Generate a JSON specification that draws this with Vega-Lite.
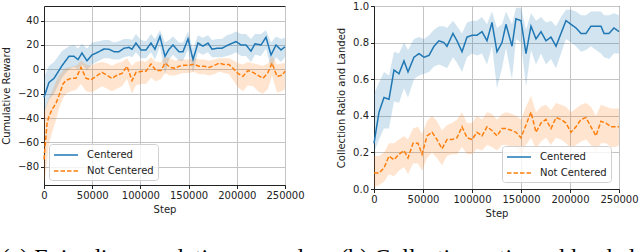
{
  "$schema": "https://vega.github.io/schema/vega-lite/v6.json",
  "autosize": {"type": "pad"},
  "padding": {"left": 0, "top": 0, "right": 0, "bottom": 0},
  "background": "white",
  "bounds": "flush",
  "spacing": 89,
  "config": {
    "view": {"stroke": "#222", "strokeWidth": 1},
    "axis": {
      "labelFont": "DejaVu Sans", "labelFontSize": 10, "labelColor": "#222",
      "titleFont": "DejaVu Sans", "titleFontSize": 10, "titleFontWeight": "normal", "titleColor": "#222",
      "tickSize": 3.5, "tickColor": "#222", "domainColor": "#222", "labelPadding": 2, "labelOverlap": false, "labelFlush": false,
      "gridColor": "#c4c4c4", "gridWidth": 1
    },
    "legend": {
      "labelFont": "DejaVu Sans", "labelFontSize": 10, "labelColor": "#222"
    },
    "title": {"font": "Liberation Serif", "fontSize": 24, "fontWeight": "normal", "color": "#000"}
  },
  "resolve": {
    "scale": {"color": "independent", "strokeDash": "independent"}
  },
  "datasets": {
    "reward": [
      {"step": 0, "s": "Centered", "m": -23, "lo": -36, "hi": -7},
      {"step": 5200, "s": "Centered", "m": -10.7, "lo": -25, "hi": 3},
      {"step": 10400, "s": "Centered", "m": -7.4, "lo": -20, "hi": 6},
      {"step": 18700, "s": "Centered", "m": 3, "lo": -7, "hi": 15},
      {"step": 25900, "s": "Centered", "m": 10.7, "lo": 0, "hi": 19},
      {"step": 31100, "s": "Centered", "m": 10.7, "lo": 2, "hi": 20},
      {"step": 35300, "s": "Centered", "m": 8, "lo": 0, "hi": 17},
      {"step": 39400, "s": "Centered", "m": 13.4, "lo": 4, "hi": 21},
      {"step": 44600, "s": "Centered", "m": 7, "lo": -1, "hi": 17},
      {"step": 49800, "s": "Centered", "m": 11.8, "lo": 4, "hi": 22},
      {"step": 57100, "s": "Centered", "m": 14.5, "lo": 7, "hi": 23},
      {"step": 62200, "s": "Centered", "m": 16.7, "lo": 9, "hi": 24},
      {"step": 67400, "s": "Centered", "m": 16.5, "lo": 9, "hi": 24},
      {"step": 72600, "s": "Centered", "m": 14.5, "lo": 8, "hi": 22},
      {"step": 77800, "s": "Centered", "m": 14.5, "lo": 8, "hi": 23},
      {"step": 83000, "s": "Centered", "m": 17.3, "lo": 10, "hi": 25},
      {"step": 88200, "s": "Centered", "m": 18, "lo": 11, "hi": 25},
      {"step": 91300, "s": "Centered", "m": 16.5, "lo": 10, "hi": 24},
      {"step": 95400, "s": "Centered", "m": 21.6, "lo": 14, "hi": 29},
      {"step": 100600, "s": "Centered", "m": 15.9, "lo": 9, "hi": 24},
      {"step": 105800, "s": "Centered", "m": 15.9, "lo": 9, "hi": 23},
      {"step": 111000, "s": "Centered", "m": 21.6, "lo": 14, "hi": 29},
      {"step": 115100, "s": "Centered", "m": 16.5, "lo": 8, "hi": 25},
      {"step": 120300, "s": "Centered", "m": 27, "lo": 19, "hi": 32},
      {"step": 125500, "s": "Centered", "m": 10.7, "lo": -4, "hi": 22},
      {"step": 129700, "s": "Centered", "m": 16.5, "lo": 8, "hi": 24},
      {"step": 133800, "s": "Centered", "m": 20, "lo": 12, "hi": 27},
      {"step": 140000, "s": "Centered", "m": 14.5, "lo": 7, "hi": 22},
      {"step": 144200, "s": "Centered", "m": 14.5, "lo": 7, "hi": 22},
      {"step": 149400, "s": "Centered", "m": 25, "lo": 16, "hi": 31},
      {"step": 154600, "s": "Centered", "m": 8, "lo": -3, "hi": 17},
      {"step": 159700, "s": "Centered", "m": 21.6, "lo": 14, "hi": 28},
      {"step": 164900, "s": "Centered", "m": 19, "lo": 12, "hi": 26},
      {"step": 170100, "s": "Centered", "m": 21.6, "lo": 14, "hi": 28},
      {"step": 174300, "s": "Centered", "m": 16.5, "lo": 10, "hi": 24},
      {"step": 179500, "s": "Centered", "m": 17.3, "lo": 10, "hi": 25},
      {"step": 184600, "s": "Centered", "m": 17.3, "lo": 10, "hi": 25},
      {"step": 189800, "s": "Centered", "m": 19.5, "lo": 11, "hi": 28},
      {"step": 194000, "s": "Centered", "m": 21, "lo": 12, "hi": 29},
      {"step": 199200, "s": "Centered", "m": 22.8, "lo": 14, "hi": 31},
      {"step": 204400, "s": "Centered", "m": 20, "lo": 11, "hi": 29},
      {"step": 209500, "s": "Centered", "m": 20, "lo": 11, "hi": 29},
      {"step": 214700, "s": "Centered", "m": 15, "lo": 6, "hi": 25},
      {"step": 218900, "s": "Centered", "m": 21, "lo": 12, "hi": 29},
      {"step": 225100, "s": "Centered", "m": 20, "lo": 11, "hi": 29},
      {"step": 230300, "s": "Centered", "m": 26.3, "lo": 17, "hi": 32},
      {"step": 235500, "s": "Centered", "m": 11.8, "lo": 1, "hi": 22},
      {"step": 240700, "s": "Centered", "m": 20, "lo": 10, "hi": 27},
      {"step": 245800, "s": "Centered", "m": 15.9, "lo": 6, "hi": 25},
      {"step": 250000, "s": "Centered", "m": 18.5, "lo": 10, "hi": 26},
      {"step": 0, "s": "Not Centered", "m": -74, "lo": -95, "hi": -35},
      {"step": 3100, "s": "Not Centered", "m": -45, "lo": -75, "hi": -28},
      {"step": 5000, "s": "Not Centered", "m": -39, "lo": -62, "hi": -24},
      {"step": 8300, "s": "Not Centered", "m": -33, "lo": -52, "hi": -18},
      {"step": 12400, "s": "Not Centered", "m": -28, "lo": -42, "hi": -10},
      {"step": 15600, "s": "Not Centered", "m": -21.5, "lo": -32, "hi": -5},
      {"step": 19700, "s": "Not Centered", "m": -12, "lo": -24, "hi": -1},
      {"step": 22800, "s": "Not Centered", "m": -9, "lo": -20, "hi": 1},
      {"step": 28000, "s": "Not Centered", "m": -7.4, "lo": -18, "hi": 2},
      {"step": 33200, "s": "Not Centered", "m": -7.4, "lo": -17, "hi": 3},
      {"step": 38400, "s": "Not Centered", "m": 1.6, "lo": -12, "hi": 7},
      {"step": 43600, "s": "Not Centered", "m": -7.4, "lo": -18, "hi": 4},
      {"step": 48800, "s": "Not Centered", "m": -8.5, "lo": -19, "hi": 3},
      {"step": 53900, "s": "Not Centered", "m": -5.8, "lo": -17, "hi": 5},
      {"step": 60200, "s": "Not Centered", "m": -2.5, "lo": -14, "hi": 6},
      {"step": 65400, "s": "Not Centered", "m": -5, "lo": -16, "hi": 5},
      {"step": 70500, "s": "Not Centered", "m": -7.4, "lo": -18, "hi": 3},
      {"step": 75700, "s": "Not Centered", "m": -4.9, "lo": -16, "hi": 5},
      {"step": 80900, "s": "Not Centered", "m": -3.3, "lo": -14, "hi": 6},
      {"step": 86100, "s": "Not Centered", "m": 2.5, "lo": -8, "hi": 9},
      {"step": 91300, "s": "Not Centered", "m": -9.3, "lo": -20, "hi": 3},
      {"step": 95400, "s": "Not Centered", "m": -2.5, "lo": -13, "hi": 6},
      {"step": 101700, "s": "Not Centered", "m": -1.6, "lo": -12, "hi": 7},
      {"step": 105800, "s": "Not Centered", "m": -1.6, "lo": -12, "hi": 6},
      {"step": 111000, "s": "Not Centered", "m": 4.4, "lo": -7, "hi": 10},
      {"step": 116200, "s": "Not Centered", "m": -1, "lo": -10, "hi": 6},
      {"step": 121400, "s": "Not Centered", "m": -1, "lo": -8, "hi": 6},
      {"step": 125500, "s": "Not Centered", "m": 5.2, "lo": -3, "hi": 10},
      {"step": 130700, "s": "Not Centered", "m": 1.6, "lo": -5, "hi": 9},
      {"step": 135900, "s": "Not Centered", "m": 0.8, "lo": -5, "hi": 7},
      {"step": 140000, "s": "Not Centered", "m": 2.5, "lo": -4, "hi": 8},
      {"step": 145200, "s": "Not Centered", "m": 3.3, "lo": -3, "hi": 8},
      {"step": 150400, "s": "Not Centered", "m": 3.3, "lo": -3, "hi": 8},
      {"step": 155600, "s": "Not Centered", "m": 4.1, "lo": -2, "hi": 9},
      {"step": 160800, "s": "Not Centered", "m": 2.5, "lo": -4, "hi": 8},
      {"step": 166000, "s": "Not Centered", "m": 2.5, "lo": -4, "hi": 8},
      {"step": 171200, "s": "Not Centered", "m": 1.6, "lo": -5, "hi": 7},
      {"step": 176300, "s": "Not Centered", "m": 3, "lo": -4, "hi": 8},
      {"step": 181500, "s": "Not Centered", "m": 5, "lo": -2, "hi": 9},
      {"step": 186700, "s": "Not Centered", "m": 4, "lo": -3, "hi": 9},
      {"step": 191900, "s": "Not Centered", "m": 4, "lo": -4, "hi": 9},
      {"step": 197100, "s": "Not Centered", "m": 0, "lo": -10, "hi": 7},
      {"step": 201200, "s": "Not Centered", "m": -3.3, "lo": -15, "hi": 5},
      {"step": 206400, "s": "Not Centered", "m": -5.8, "lo": -18, "hi": 4},
      {"step": 211600, "s": "Not Centered", "m": -1, "lo": -13, "hi": 6},
      {"step": 216800, "s": "Not Centered", "m": -2.5, "lo": -14, "hi": 5},
      {"step": 222000, "s": "Not Centered", "m": -4.9, "lo": -18, "hi": 4},
      {"step": 227200, "s": "Not Centered", "m": -7.4, "lo": -20, "hi": 3},
      {"step": 232400, "s": "Not Centered", "m": -2.5, "lo": -16, "hi": 5},
      {"step": 236500, "s": "Not Centered", "m": 5.2, "lo": -5, "hi": 11},
      {"step": 241700, "s": "Not Centered", "m": -5.8, "lo": -19, "hi": 4},
      {"step": 246900, "s": "Not Centered", "m": -4.9, "lo": -18, "hi": 5},
      {"step": 250000, "s": "Not Centered", "m": -1.6, "lo": -16, "hi": 5}
    ],
    "ratio": [
      {"step": 0, "s": "Centered", "m": 0.25, "lo": 0.2, "hi": 0.52},
      {"step": 5100, "s": "Centered", "m": 0.42, "lo": 0.27, "hi": 0.58},
      {"step": 10200, "s": "Centered", "m": 0.5, "lo": 0.33, "hi": 0.64},
      {"step": 15300, "s": "Centered", "m": 0.49, "lo": 0.33, "hi": 0.62},
      {"step": 20400, "s": "Centered", "m": 0.65, "lo": 0.48, "hi": 0.75},
      {"step": 25500, "s": "Centered", "m": 0.63, "lo": 0.47, "hi": 0.74},
      {"step": 30600, "s": "Centered", "m": 0.7, "lo": 0.55, "hi": 0.8},
      {"step": 34700, "s": "Centered", "m": 0.64, "lo": 0.5, "hi": 0.76},
      {"step": 40800, "s": "Centered", "m": 0.72, "lo": 0.6, "hi": 0.82},
      {"step": 45900, "s": "Centered", "m": 0.74, "lo": 0.62, "hi": 0.83},
      {"step": 51000, "s": "Centered", "m": 0.72, "lo": 0.63, "hi": 0.82},
      {"step": 56100, "s": "Centered", "m": 0.73, "lo": 0.64, "hi": 0.84},
      {"step": 61200, "s": "Centered", "m": 0.78, "lo": 0.67, "hi": 0.87},
      {"step": 66300, "s": "Centered", "m": 0.81, "lo": 0.68, "hi": 0.89},
      {"step": 71400, "s": "Centered", "m": 0.8, "lo": 0.67, "hi": 0.89},
      {"step": 74500, "s": "Centered", "m": 0.78, "lo": 0.66, "hi": 0.88},
      {"step": 80600, "s": "Centered", "m": 0.85, "lo": 0.72, "hi": 0.92},
      {"step": 84700, "s": "Centered", "m": 0.81, "lo": 0.69, "hi": 0.89},
      {"step": 89800, "s": "Centered", "m": 0.75, "lo": 0.64, "hi": 0.85},
      {"step": 94900, "s": "Centered", "m": 0.83, "lo": 0.72, "hi": 0.91},
      {"step": 100000, "s": "Centered", "m": 0.84, "lo": 0.74, "hi": 0.92},
      {"step": 105100, "s": "Centered", "m": 0.84, "lo": 0.73, "hi": 0.92},
      {"step": 110200, "s": "Centered", "m": 0.86, "lo": 0.74, "hi": 0.94},
      {"step": 115300, "s": "Centered", "m": 0.81, "lo": 0.68, "hi": 0.9},
      {"step": 120400, "s": "Centered", "m": 0.91, "lo": 0.78, "hi": 0.97},
      {"step": 125500, "s": "Centered", "m": 0.75, "lo": 0.55, "hi": 0.88},
      {"step": 130600, "s": "Centered", "m": 0.8, "lo": 0.66, "hi": 0.9},
      {"step": 134700, "s": "Centered", "m": 0.9, "lo": 0.77, "hi": 0.97},
      {"step": 140800, "s": "Centered", "m": 0.78, "lo": 0.6, "hi": 0.9},
      {"step": 144900, "s": "Centered", "m": 0.93, "lo": 0.82, "hi": 0.99},
      {"step": 150000, "s": "Centered", "m": 0.92, "lo": 0.8, "hi": 0.99},
      {"step": 155100, "s": "Centered", "m": 0.74, "lo": 0.56, "hi": 0.87},
      {"step": 160200, "s": "Centered", "m": 0.89, "lo": 0.76, "hi": 0.96},
      {"step": 165300, "s": "Centered", "m": 0.82, "lo": 0.68, "hi": 0.92},
      {"step": 170400, "s": "Centered", "m": 0.86, "lo": 0.74, "hi": 0.94},
      {"step": 175500, "s": "Centered", "m": 0.81, "lo": 0.68, "hi": 0.91},
      {"step": 180600, "s": "Centered", "m": 0.83, "lo": 0.71, "hi": 0.92},
      {"step": 185700, "s": "Centered", "m": 0.78, "lo": 0.66, "hi": 0.89},
      {"step": 190800, "s": "Centered", "m": 0.85, "lo": 0.74, "hi": 0.94},
      {"step": 195900, "s": "Centered", "m": 0.92, "lo": 0.82, "hi": 0.98},
      {"step": 201000, "s": "Centered", "m": 0.9, "lo": 0.8, "hi": 0.98},
      {"step": 206100, "s": "Centered", "m": 0.88, "lo": 0.78, "hi": 0.97},
      {"step": 211200, "s": "Centered", "m": 0.85, "lo": 0.75, "hi": 0.95},
      {"step": 216300, "s": "Centered", "m": 0.85, "lo": 0.76, "hi": 0.95},
      {"step": 221400, "s": "Centered", "m": 0.89, "lo": 0.78, "hi": 0.97},
      {"step": 226500, "s": "Centered", "m": 0.89, "lo": 0.76, "hi": 0.97},
      {"step": 231600, "s": "Centered", "m": 0.89, "lo": 0.74, "hi": 0.97},
      {"step": 234700, "s": "Centered", "m": 0.85, "lo": 0.72, "hi": 0.95},
      {"step": 239800, "s": "Centered", "m": 0.85, "lo": 0.71, "hi": 0.95},
      {"step": 244900, "s": "Centered", "m": 0.88, "lo": 0.74, "hi": 0.96},
      {"step": 250000, "s": "Centered", "m": 0.86, "lo": 0.74, "hi": 0.95},
      {"step": 0, "s": "Not Centered", "m": 0.087, "lo": 0.01, "hi": 0.18},
      {"step": 5100, "s": "Not Centered", "m": 0.087, "lo": 0.02, "hi": 0.18},
      {"step": 10200, "s": "Not Centered", "m": 0.115, "lo": 0.04, "hi": 0.2},
      {"step": 15300, "s": "Not Centered", "m": 0.18, "lo": 0.08, "hi": 0.25},
      {"step": 20400, "s": "Not Centered", "m": 0.16, "lo": 0.07, "hi": 0.25},
      {"step": 25500, "s": "Not Centered", "m": 0.19, "lo": 0.1, "hi": 0.27},
      {"step": 30600, "s": "Not Centered", "m": 0.21, "lo": 0.12, "hi": 0.29},
      {"step": 34700, "s": "Not Centered", "m": 0.17, "lo": 0.08, "hi": 0.27},
      {"step": 39800, "s": "Not Centered", "m": 0.25, "lo": 0.14, "hi": 0.33},
      {"step": 44900, "s": "Not Centered", "m": 0.25, "lo": 0.14, "hi": 0.34},
      {"step": 49000, "s": "Not Centered", "m": 0.19, "lo": 0.1, "hi": 0.3},
      {"step": 54100, "s": "Not Centered", "m": 0.29, "lo": 0.17, "hi": 0.37},
      {"step": 59200, "s": "Not Centered", "m": 0.31, "lo": 0.2, "hi": 0.4},
      {"step": 64300, "s": "Not Centered", "m": 0.27, "lo": 0.17, "hi": 0.37},
      {"step": 69400, "s": "Not Centered", "m": 0.22, "lo": 0.13, "hi": 0.32},
      {"step": 74500, "s": "Not Centered", "m": 0.27, "lo": 0.18, "hi": 0.35},
      {"step": 79600, "s": "Not Centered", "m": 0.27, "lo": 0.19, "hi": 0.36},
      {"step": 84700, "s": "Not Centered", "m": 0.28, "lo": 0.19, "hi": 0.38},
      {"step": 89800, "s": "Not Centered", "m": 0.34, "lo": 0.23, "hi": 0.42},
      {"step": 94900, "s": "Not Centered", "m": 0.28, "lo": 0.19, "hi": 0.36},
      {"step": 100000, "s": "Not Centered", "m": 0.27, "lo": 0.19, "hi": 0.36},
      {"step": 105100, "s": "Not Centered", "m": 0.31, "lo": 0.22, "hi": 0.4},
      {"step": 110200, "s": "Not Centered", "m": 0.29, "lo": 0.21, "hi": 0.38},
      {"step": 115300, "s": "Not Centered", "m": 0.34, "lo": 0.24, "hi": 0.42},
      {"step": 120400, "s": "Not Centered", "m": 0.32, "lo": 0.23, "hi": 0.41},
      {"step": 125500, "s": "Not Centered", "m": 0.29, "lo": 0.21, "hi": 0.38},
      {"step": 130600, "s": "Not Centered", "m": 0.33, "lo": 0.24, "hi": 0.41},
      {"step": 134700, "s": "Not Centered", "m": 0.33, "lo": 0.24, "hi": 0.42},
      {"step": 140800, "s": "Not Centered", "m": 0.32, "lo": 0.23, "hi": 0.41},
      {"step": 144900, "s": "Not Centered", "m": 0.31, "lo": 0.22, "hi": 0.4},
      {"step": 150000, "s": "Not Centered", "m": 0.28, "lo": 0.19, "hi": 0.38},
      {"step": 155100, "s": "Not Centered", "m": 0.35, "lo": 0.24, "hi": 0.45},
      {"step": 160200, "s": "Not Centered", "m": 0.42, "lo": 0.28, "hi": 0.51},
      {"step": 165300, "s": "Not Centered", "m": 0.31, "lo": 0.22, "hi": 0.42},
      {"step": 170400, "s": "Not Centered", "m": 0.36, "lo": 0.26, "hi": 0.45},
      {"step": 175500, "s": "Not Centered", "m": 0.38, "lo": 0.28, "hi": 0.46},
      {"step": 180600, "s": "Not Centered", "m": 0.33, "lo": 0.24, "hi": 0.43},
      {"step": 185700, "s": "Not Centered", "m": 0.39, "lo": 0.28, "hi": 0.47},
      {"step": 190800, "s": "Not Centered", "m": 0.38, "lo": 0.27, "hi": 0.46},
      {"step": 195900, "s": "Not Centered", "m": 0.36, "lo": 0.25, "hi": 0.45},
      {"step": 201000, "s": "Not Centered", "m": 0.31, "lo": 0.22, "hi": 0.42},
      {"step": 206100, "s": "Not Centered", "m": 0.34, "lo": 0.24, "hi": 0.44},
      {"step": 211200, "s": "Not Centered", "m": 0.38, "lo": 0.26, "hi": 0.46},
      {"step": 216300, "s": "Not Centered", "m": 0.39, "lo": 0.27, "hi": 0.47},
      {"step": 221400, "s": "Not Centered", "m": 0.34, "lo": 0.24, "hi": 0.45},
      {"step": 226500, "s": "Not Centered", "m": 0.29, "lo": 0.2, "hi": 0.4},
      {"step": 231600, "s": "Not Centered", "m": 0.37, "lo": 0.25, "hi": 0.46},
      {"step": 236700, "s": "Not Centered", "m": 0.36, "lo": 0.25, "hi": 0.45},
      {"step": 241800, "s": "Not Centered", "m": 0.34, "lo": 0.23, "hi": 0.44},
      {"step": 246900, "s": "Not Centered", "m": 0.34, "lo": 0.23, "hi": 0.44},
      {"step": 250000, "s": "Not Centered", "m": 0.34, "lo": 0.24, "hi": 0.44}
    ]
  },
  "hconcat": [
    {
      "width": 241,
      "height": 179,
      "data": {"name": "reward"},
      "title": {"text": "(a) Episodic cumulative reward", "orient": "bottom", "anchor": "middle", "dx": -12, "offset": 31, "baseline": "top"},
      "encoding": {
        "x": {"field": "step", "type": "quantitative", "scale": {"domain": [0, 250000], "nice": false},
          "axis": {"values": [0, 50000, 100000, 150000, 200000, 250000], "format": "d", "title": "Step", "titlePadding": 4}},
        "y": {"field": "m", "type": "quantitative", "scale": {"domain": [-95, 52], "nice": false, "zero": false},
          "axis": {"values": [-80, -60, -40, -20, 0, 20, 40], "format": "d", "title": "Cumulative Reward", "titlePadding": 6}}
      },
      "layer": [
        {
          "transform": [{"filter": "datum.s === 'Centered'"}],
          "mark": {"type": "area", "opacity": 0.2, "color": "#1f77b4"},
          "encoding": {"y": {"field": "lo", "type": "quantitative"}, "y2": {"field": "hi"}}
        },
        {
          "transform": [{"filter": "datum.s === 'Not Centered'"}],
          "mark": {"type": "area", "opacity": 0.2, "color": "#ff7f0e"},
          "encoding": {"y": {"field": "lo", "type": "quantitative"}, "y2": {"field": "hi"}}
        },
        {
          "mark": {"type": "line", "strokeWidth": 1.5},
          "encoding": {
            "color": {"field": "s", "type": "nominal", "scale": {"domain": ["Centered", "Not Centered"], "range": ["#1f77b4", "#ff7f0e"]},
              "legend": {"title": null, "orient": "none", "legendX": 5, "legendY": 138, "symbolType": "M-1,0H3", "symbolSize": 144, "symbolStrokeWidth": 1.5, "labelOffset": 20, "padding": 4, "rowPadding": 4, "strokeColor": "#d0d0d0", "fillColor": "rgba(255,255,255,0.8)", "cornerRadius": 3}},
            "strokeDash": {"field": "s", "type": "nominal", "scale": {"domain": ["Centered", "Not Centered"], "range": [[1, 0], [4.5, 2]]},
              "legend": {"title": null, "orient": "none", "legendX": 5, "legendY": 138, "symbolType": "M-1,0H3", "symbolSize": 144, "symbolStrokeWidth": 1.5, "labelOffset": 20, "padding": 4, "rowPadding": 4, "strokeColor": "#d0d0d0", "fillColor": "rgba(255,255,255,0.8)", "cornerRadius": 3}}
          }
        }
      ]
    },
    {
      "width": 245,
      "height": 183,
      "data": {"name": "ratio"},
      "title": {"text": "(b) Collection ratio and landed", "orient": "bottom", "anchor": "middle", "dx": -9, "offset": 27, "baseline": "top"},
      "encoding": {
        "x": {"field": "step", "type": "quantitative", "scale": {"domain": [0, 250000], "nice": false},
          "axis": {"values": [0, 50000, 100000, 150000, 200000, 250000], "format": "d", "title": "Step", "titlePadding": 4}},
        "y": {"field": "m", "type": "quantitative", "scale": {"domain": [0, 1], "nice": false},
          "axis": {"values": [0, 0.2, 0.4, 0.6, 0.8, 1.0], "format": ".1f", "title": "Collection Ratio and Landed", "titlePadding": 6}}
      },
      "layer": [
        {
          "transform": [{"filter": "datum.s === 'Centered'"}],
          "mark": {"type": "area", "opacity": 0.2, "color": "#1f77b4"},
          "encoding": {"y": {"field": "lo", "type": "quantitative"}, "y2": {"field": "hi"}}
        },
        {
          "transform": [{"filter": "datum.s === 'Not Centered'"}],
          "mark": {"type": "area", "opacity": 0.2, "color": "#ff7f0e"},
          "encoding": {"y": {"field": "lo", "type": "quantitative"}, "y2": {"field": "hi"}}
        },
        {
          "mark": {"type": "line", "strokeWidth": 1.5},
          "encoding": {
            "color": {"field": "s", "type": "nominal", "scale": {"domain": ["Centered", "Not Centered"], "range": ["#1f77b4", "#ff7f0e"]},
              "legend": {"title": null, "orient": "none", "legendX": 128, "legendY": 140, "symbolType": "M-1,0H3", "symbolSize": 144, "symbolStrokeWidth": 1.5, "labelOffset": 20, "padding": 4, "rowPadding": 4, "strokeColor": "#d0d0d0", "fillColor": "rgba(255,255,255,0.8)", "cornerRadius": 3}},
            "strokeDash": {"field": "s", "type": "nominal", "scale": {"domain": ["Centered", "Not Centered"], "range": [[1, 0], [4.5, 2]]},
              "legend": {"title": null, "orient": "none", "legendX": 128, "legendY": 140, "symbolType": "M-1,0H3", "symbolSize": 144, "symbolStrokeWidth": 1.5, "labelOffset": 20, "padding": 4, "rowPadding": 4, "strokeColor": "#d0d0d0", "fillColor": "rgba(255,255,255,0.8)", "cornerRadius": 3}}
          }
        }
      ]
    }
  ]
}
